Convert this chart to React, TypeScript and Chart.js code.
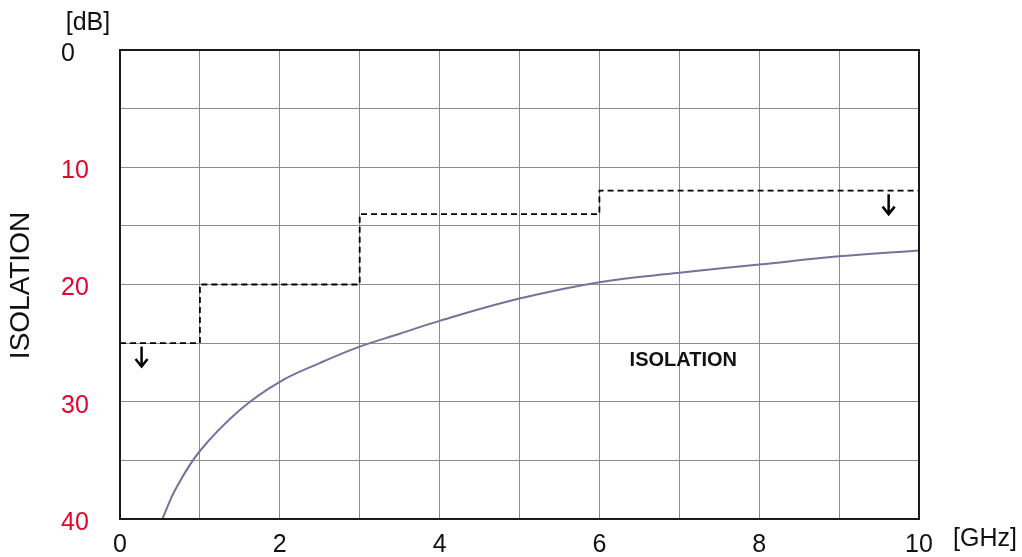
import React, { useEffect, useRef } from "react";
import { Chart, registerables } from "chart.js";

Chart.register(...registerables);

// ---- data ----
const limitX = [0, 1, 1, 3, 3, 6, 6, 10];
const limitY = [25, 25, 20, 20, 14, 14, 12, 12];

const isoX = [0.53, 0.7, 1, 1.5, 2, 2.5, 3, 3.5, 4, 5, 6, 7, 8, 9, 10];
const isoY = [40, 37.4, 34.2, 30.7, 28.3, 26.7, 25.3, 24.2, 23.1, 21.2, 19.8, 19.0, 18.3, 17.6, 17.1];

const arrowX = [0.27, 9.62];
const arrowFromY = [25.3, 12.3];
const arrowToY = [27.0, 14.0];

const labelText = "ISOLATION";
const labelX = 7.05;
const labelY = 26.5;

const yTitle = "ISOLATION";
const yUnit = "[dB]";
const xUnit = "[GHz]";

const FONT = "'Liberation Sans', Arial, Helvetica, sans-serif";
const RED = "#e2062c";

const overlay = {
  id: "overlay",
  afterDraw(chart: any) {
    const { ctx, chartArea, scales } = chart;
    const xs = scales.x;
    const ys = scales.y;
    ctx.save();
    // border
    ctx.strokeStyle = "#1a1a1a";
    ctx.lineWidth = 2;
    ctx.strokeRect(chartArea.left, chartArea.top, chartArea.right - chartArea.left, chartArea.bottom - chartArea.top);

    // arrows
    ctx.strokeStyle = "#000";
    ctx.lineWidth = 2.5;
    ctx.lineCap = "butt";
    ctx.lineJoin = "miter";
    for (let i = 0; i < arrowX.length; i++) {
      const px = xs.getPixelForValue(arrowX[i]);
      const y1 = ys.getPixelForValue(arrowFromY[i]);
      const y2 = ys.getPixelForValue(arrowToY[i]);
      ctx.beginPath();
      ctx.moveTo(px, y1);
      ctx.lineTo(px, y2);
      ctx.stroke();
      ctx.beginPath();
      ctx.moveTo(px - 6, y2 - 7.5);
      ctx.lineTo(px, y2);
      ctx.lineTo(px + 6, y2 - 7.5);
      ctx.stroke();
    }

    // in-chart label
    ctx.fillStyle = "#111";
    ctx.font = `bold 20px ${FONT}`;
    ctx.textAlign = "center";
    ctx.textBaseline = "middle";
    ctx.fillText(labelText, xs.getPixelForValue(labelX), ys.getPixelForValue(labelY));

    // units
    ctx.font = `25px ${FONT}`;
    ctx.fillStyle = "#111";
    ctx.textAlign = "center";
    ctx.fillText(yUnit, chartArea.left - 32, chartArea.top - 27);
    ctx.textAlign = "left";
    ctx.fillText(xUnit, chartArea.right + 34, chartArea.bottom + 20);

    // y title
    ctx.translate(21, (chartArea.top + chartArea.bottom) / 2 + 1);
    ctx.rotate(-Math.PI / 2);
    ctx.textAlign = "center";
    ctx.font = `28px ${FONT}`;
    ctx.fillText(yTitle, 0, 0);
    ctx.restore();
  },
};

export default function App() {
  const ref = useRef<HTMLCanvasElement | null>(null);
  useEffect(() => {
    if (!ref.current) return;
    const chart = new Chart(ref.current, {
      type: "line",
      data: {
        datasets: [
          {
            label: "limit",
            data: limitX.map((x, i) => ({ x, y: limitY[i] })),
            borderColor: "#000",
            borderWidth: 1.8,
            borderDash: [6, 4],
            pointRadius: 0,
            fill: false,
            tension: 0,
          },
          {
            label: "isolation",
            data: isoX.map((x, i) => ({ x, y: isoY[i] })),
            borderColor: "#7b7099",
            borderWidth: 2,
            pointRadius: 0,
            fill: false,
            tension: 0.4,
          },
        ],
      },
      options: {
        animation: false,
        responsive: false,
        devicePixelRatio: 1,
        layout: { padding: { left: 61, top: 50, right: 103, bottom: 0 } },
        plugins: { legend: { display: false }, tooltip: { enabled: false } },
        scales: {
          x: {
            type: "linear",
            min: 0,
            max: 10,
            afterFit: (s: any) => {
              s.height = 38;
            },
            border: { display: false },
            grid: { color: "#8c8c8c", lineWidth: 1, drawTicks: false },
            ticks: {
              stepSize: 1,
              autoSkip: false,
              maxRotation: 0,
              padding: 11,
              color: "#111",
              font: { family: FONT, size: 25 },
              callback: (v: any) => (Number(v) % 2 === 0 ? String(v) : ""),
            },
          },
          y: {
            type: "linear",
            min: 0,
            max: 40,
            reverse: true,
            afterFit: (s: any) => {
              s.width = 59;
            },
            border: { display: false },
            grid: { color: "#8c8c8c", lineWidth: 1, drawTicks: false },
            ticks: {
              stepSize: 5,
              autoSkip: false,
              crossAlign: "far",
              padding: 0,
              labelOffset: 4,
              color: (c: any) => (c.tick && c.tick.value === 0 ? "#111" : RED),
              font: { family: FONT, size: 25 },
              callback: (v: any) => (Number(v) % 10 === 0 ? String(v) : ""),
            },
          },
        },
      },
      plugins: [overlay],
    } as any);
    return () => chart.destroy();
  }, []);
  return (
    <div style={{ position: "fixed", left: 0, top: 0, width: 1022, height: 557, background: "#fff" }}>
      <canvas ref={ref} width={1022} height={557} style={{ width: 1022, height: 557 }} />
    </div>
  );
}
